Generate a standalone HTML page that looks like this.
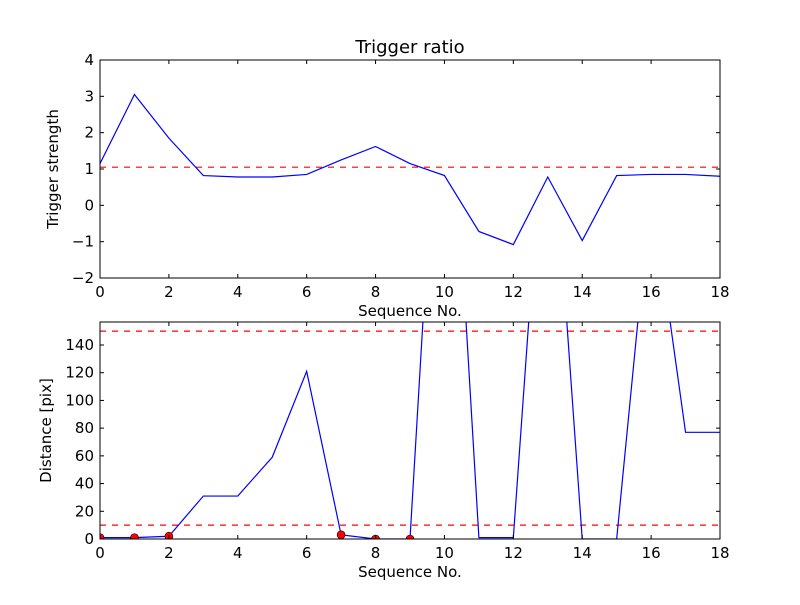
<!DOCTYPE html>
<html><head><meta charset="utf-8"><style>body{margin:0;background:#fff}svg{font-family:"DejaVu Sans","Liberation Sans",sans-serif}</style></head>
<body>
<svg id="c" width="800" height="600"></svg>
<script>
const seq = [0,1,2,3,4,5,6,7,8,9,10,11,12,13,14,15,16,17,18];
const strength = [1.15,3.05,1.85,0.82,0.78,0.78,0.85,1.25,1.62,1.15,0.82,-0.72,-1.08,0.78,-0.97,0.82,0.85,0.85,0.8];
const strengthThreshold = 1.05;
const distance = [1,1,2,31,31,59,121,3,0,0,418,1,1,350,0,0,255,77,77];
const distanceThresholds = [150,10];
const markedIdx = [0,1,2,7,8,9];
const xTicks = [0,2,4,6,8,10,12,14,16,18];
const yTicksTop = [-2,-1,0,1,2,3,4];
const yTicksBot = [0,20,40,60,80,100,120,140];

const svg = document.getElementById('c');
const NS='http://www.w3.org/2000/svg';
function mk(tag, attrs, parent, name){const e=document.createElementNS(NS,tag);for(const k in attrs)e.setAttribute(k,attrs[k]);


(parent||svg).appendChild(e);return e;}
function txt(x,y,s,size,anchor,name,rot){const t=mk('text',{x:x,y:y,'font-size':size,'text-anchor':anchor||'middle',fill:'#000'},svg,name);if(rot)t.setAttribute('transform',`rotate(-90 ${x} ${y})`);t.textContent=s;return t;}

function panel(o){
  const L=100,R=720,T=o.top,B=o.bot;
  const sx=v=>L+(v-0)/(18-0)*(R-L);
  const sy=v=>B-(v-o.ymin)/(o.ymax-o.ymin)*(B-T);
  const cid='clip'+o.id;
  const cp=mk('clipPath',{id:cid},svg,'clip-'+o.id);
  mk('rect',{x:L,y:T,width:R-L,height:B-T},cp,'clip-rect');
  const g=mk('g',{'clip-path':`url(#${cid})`},svg,o.id+'-plot-area');
  o.hlines.forEach((h,i)=>mk('line',{x1:L,x2:R,y1:sy(h),y2:sy(h),stroke:'#f00','stroke-width':1.2,'stroke-dasharray':'6,6'},g,'threshold-line-'+i));
  mk('polyline',{points:seq.map((s,i)=>sx(s)+','+sy(o.data[i])).join(' '),fill:'none',stroke:'#00f','stroke-width':1.2},g,o.id+'-series-line');
  if(o.marks) o.marks.forEach(i=>mk('circle',{cx:sx(seq[i]),cy:sy(o.data[i]),r:4,fill:'#f00',stroke:'#000','stroke-width':0.6},g,'marked-point'));
  mk('rect',{x:L,y:T,width:R-L,height:B-T,fill:'none',stroke:'#000','stroke-width':1},svg,o.id+'-axes-frame');
  xTicks.forEach(v=>{const x=sx(v);
    mk('line',{x1:x,x2:x,y1:B,y2:B-4,stroke:'#000'},svg,'x-tick');
    mk('line',{x1:x,x2:x,y1:T,y2:T+4,stroke:'#000'},svg,'x-tick-top');
    txt(x,B+19,String(v),15,'middle','x-tick-label');});
  o.yticks.forEach(v=>{const y=sy(v);
    mk('line',{x1:L,x2:L+4,y1:y,y2:y,stroke:'#000'},svg,'y-tick');
    mk('line',{x1:R,x2:R-4,y1:y,y2:y,stroke:'#000'},svg,'y-tick-right');
    txt(L-6,y+5,v<0?'\u2212'+(-v):String(v),15,'end','y-tick-label');});
  txt(410,B+38,'Sequence No.',15,'middle','x-axis-title');
  txt(o.ylx,(T+B)/2,o.ylabel,15,'middle','y-axis-title',true);
}
txt(410,53,'Trigger ratio',18,'middle','chart-title');
panel({id:'top',top:60,bot:278,ymin:-2,ymax:4,data:strength,hlines:[strengthThreshold],yticks:yTicksTop,ylabel:'Trigger strength',ylx:58});
panel({id:'bottom',top:322,bot:539,ymin:0,ymax:156.6,data:distance,hlines:distanceThresholds,yticks:yTicksBot,ylabel:'Distance [pix]',ylx:51,marks:markedIdx});
</script>
</body></html>
